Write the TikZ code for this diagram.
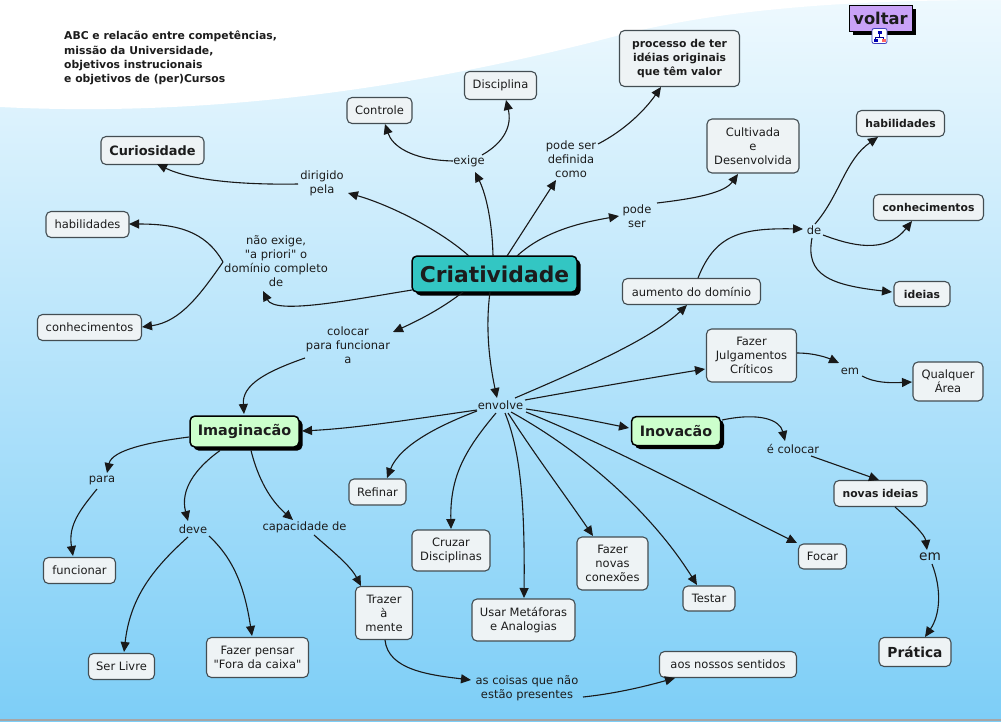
\documentclass[tikz,border=0pt]{standalone}
\usepackage{fontspec}
\setmainfont{DejaVu Sans}[Ligatures=TeXOff]
\usetikzlibrary{arrows.meta,shadows,calc}
\definecolor{cfill}{HTML}{EEF3F5}
\definecolor{cdraw}{HTML}{434D52}
\definecolor{tealc}{HTML}{33C6C3}
\definecolor{greenc}{HTML}{CCFFCC}
\definecolor{purpc}{HTML}{C9A2F7}
\definecolor{bgtop}{HTML}{EEF9FE}
\definecolor{bgbot}{HTML}{7DCEF7}
\definecolor{txt}{HTML}{1C1C1C}
\newcommand\fsz[2]{\fontsize{#1}{#2}\selectfont}
\tikzset{
  concept/.style={draw=cdraw, fill=cfill, rounded corners=5pt, line width=1.1pt, inner sep=2pt, align=center, text=txt, font=\fsz{11.5}{14}},
  cn/.style 2 args={concept, minimum width=#1, minimum height=#2},
  bcn/.style 2 args={concept, minimum width=#1, minimum height=#2, font=\bfseries\fsz{10.8}{14}},
  mainc/.style={draw=black, line width=1.5pt, rounded corners=5pt, inner sep=2pt, text=txt, drop shadow={shadow xshift=3.5pt, shadow yshift=-3.5pt, opacity=1, fill=black}},
  lk/.style={inner sep=1pt, align=center, text=txt, font=\fsz{11.5}{14}},
  conn/.style={draw=black!90, line width=1.1pt, -{Triangle[length=10pt,width=9pt]}},
}
\begin{document}
\begin{tikzpicture}[x=1pt,y=-1pt]
\useasboundingbox (0,0) rectangle (1001,721);
\shade[top color=bgtop, bottom color=bgbot] (0,0) rectangle (1001,721);
\fill[white] (0,0) -- (0,107) .. controls (220,118) and (430,85) .. (620,35) .. controls (740,5) and (880,0) .. (1001,0) -- cycle;
\draw[gray!70, line width=1.5pt] (0,720) -- (1001,720);

% title
\node[anchor=north west, inner sep=0pt, align=left, font=\bfseries\fsz{10.8}{14.2}, text=txt] (title) at (64,31) {ABC e relacão entre competências,\\missão da Universidade,\\objetivos instrucionais\\e objetivos de (per)Cursos};

% voltar
\node[draw=black, line width=1pt, fill=purpc, minimum width=63, minimum height=26, font=\bfseries\fsz{16.3}{18}, inner sep=1pt, text=txt, drop shadow={shadow xshift=3.5pt, shadow yshift=-3.5pt, opacity=1, fill=black}] (voltar) at (880.5,18.5) {voltar};
\node[draw=blue!50!gray, fill=white, rounded corners=2pt, minimum width=15, minimum height=15, inner sep=0pt, line width=0.8pt] (icon) at (879.5,36) {};
\fill[blue!70!black] ($(icon)+(-2,-5.5)$) rectangle ($(icon)+(2,-2.5)$);
\draw[blue!60!black, line width=0.6pt] ($(icon)+(0,-2.5)$) -- ($(icon)+(0,1)$) ($(icon)+(-4,1)$) -- ($(icon)+(4,1)$) ($(icon)+(-4,1)$) -- ($(icon)+(-4,2.5)$) ($(icon)+(4,1)$) -- ($(icon)+(4,2.5)$);
\fill[blue!70!black] ($(icon)+(-6,2.5)$) rectangle ($(icon)+(-2,5.5)$);
\fill[red!60] ($(icon)+(2,2.5)$) rectangle ($(icon)+(6,5.5)$);

% main concepts
\node[mainc, fill=tealc, minimum width=165, minimum height=36, font=\bfseries\fsz{21.8}{24}] (Cr) at (494.5,274) {Criatividade};
\node[mainc, fill=greenc, minimum width=109, minimum height=31, font=\bfseries\fsz{14.4}{16}] (Imag) at (244.5,431.5) {Imaginacão};
\node[mainc, fill=greenc, minimum width=89, minimum height=29, font=\bfseries\fsz{14.3}{16}] (Inov) at (676,431) {Inovacão};

% concepts
\node[cn={65}{26}] (Ctrl) at (379.5,110.5) {Controle};
\node[cn={72}{28}] (Disc) at (500.5,85.5) {Disciplina};
\node[bcn={120}{56}] (proc) at (679.5,58.5) {processo de ter\\idéias originais\\que têm valor};
\node[cn={103}{28}, font=\bfseries\fsz{12.9}{15}] (Cur) at (152.5,150.5) {Curiosidade};
\node[cn={83}{26}] (habL) at (87.5,224.5) {habilidades};
\node[cn={104}{26}] (conL) at (89.5,327.5) {conhecimentos};
\node[cn={92}{54}] (Cult) at (753,146) {Cultivada\\e\\Desenvolvida};
\node[bcn={88}{26}] (habR) at (900.5,123.5) {habilidades};
\node[bcn={110}{26}] (conR) at (928.5,207.5) {conhecimentos};
\node[bcn={56}{25}] (ide) at (922,294) {ideias};
\node[cn={138}{26}] (aum) at (691.5,291.5) {aumento do domínio};
\node[cn={90}{53}] (Julg) at (751.5,355.5) {Fazer\\Julgamentos\\Críticos};
\node[cn={70}{39}] (Qual) at (948,381.5) {Qualquer\\Área};
\node[bcn={93}{26}] (nid) at (880.5,493.5) {novas ideias};
\node[cn={57}{26}] (Ref) at (377.5,492) {Refinar};
\node[cn={78}{41}] (Cruz) at (451,550.5) {Cruzar\\Disciplinas};
\node[cn={103}{42}] (Usar) at (523.5,620) {Usar Metáforas\\e Analogias};
\node[cn={71}{53}] (Conx) at (612.5,563.5) {Fazer\\novas\\conexões};
\node[cn={52}{25}] (Test) at (709,598.5) {Testar};
\node[cn={48}{25}] (Foc) at (822.5,556.5) {Focar};
\node[cn={57}{53}] (Traz) at (384,613) {Trazer\\à\\mente};
\node[cn={137}{26}] (aos) at (728,664.5) {aos nossos sentidos};
\node[cn={72}{29}, font=\bfseries\fsz{13.8}{16}] (Prat) at (915,652) {Prática};
\node[cn={72}{26}] (func) at (79.5,570.5) {funcionar};
\node[cn={66}{26}] (Livre) at (121.5,666.5) {Ser Livre};
\node[cn={102}{40}] (Fora) at (257.5,657.5) {Fazer pensar\\"Fora da caixa"};

% linking phrases
\node[lk] (exige) at (469,161) {exige};
\node[lk] (dir) at (322,183.5) {dirigido\\pela};
\node[lk] (pdef) at (571,159) {pode ser\\definida\\como};
\node[lk] (pser) at (637,216) {pode\\ser};
\node[lk] (nao) at (276,261) {não exige,\\"a priori" o\\domínio completo\\de};
\node[lk] (col) at (348,345.5) {colocar\\para funcionar\\a};
\node[lk] (env) at (500.5,405) {envolve};
\node[lk] (de) at (814,230) {de};
\node[lk] (emA) at (850,371) {em};
\node[lk] (ecol) at (793,449) {é colocar};
\node[lk, font=\fsz{13.7}{16}] (emB) at (930,557) {em};
\node[lk] (para) at (102,480) {para};
\node[lk] (deve) at (193,529) {deve};
\node[lk] (cap) at (304.5,527) {capacidade de};
\node[lk] (coisas) at (527,688) {as coisas que não\\estão presentes};

% connectors
\draw[conn] ($(Cr)+(-1.5,-18)$) .. controls +(-1,-41) and +(9,18) .. ($(exige)+(6,11)$);
\draw[conn] ($(exige)+(-16,0)$) .. controls +(-43,-1) and +(7,21) .. ($(Ctrl)+(5.5,13.5)$);
\draw[conn] ($(exige)+(13,-6)$) .. controls +(23,-13) and +(6,25) .. ($(Disc)+(5.5,14.5)$);
\draw[conn] ($(Cr)+(12.5,-18)$) -- ($(pdef)+(-15,21)$);
\draw[conn] ($(pdef)+(27,-15)$) .. controls +(27,-14) and +(-16,23) .. ($(proc)+(-18.5,28.5)$);
\draw[conn] ($(Cr)+(22.5,-18)$) .. controls +(28,-26) and +(-34,6) .. ($(pser)+(-18,0)$);
\draw[conn] ($(pser)+(20,-13)$) .. controls +(43,-5) and +(-13,18) .. ($(Cult)+(-15,28)$);
\draw[conn] ($(Cr)+(-25.5,-18)$) .. controls +(-29,-26) and +(42,12) .. ($(dir)+(26,9.5)$);
\draw[conn] ($(dir)+(-24,0.5)$) .. controls +(-58,1) and +(33,16) .. ($(Cur)+(4.5,13.5)$);
\draw[conn] ($(Cr)+(-82.5,16)$) .. controls +(-62,10) and +(12,24) .. ($(nao)+(-13,30)$);
\draw[conn] ($(nao)+(-53,1)$) .. controls +(-18,-32) and +(46,0) .. ($(habL)+(41.5,-0.5)$);
\draw[conn] ($(nao)+(-53,1)$) .. controls +(-23,33) and +(38,-5) .. ($(conL)+(52.5,-0.5)$);
\draw[conn] ($(Cr)+(-31.5,18)$) .. controls +(-23,18) and +(22,-10) .. ($(col)+(45,-13.5)$);
\draw[conn] ($(col)+(-43,12.5)$) .. controls +(-40,14) and +(-2,-29) .. ($(Imag)+(-0.5,-17.5)$);
\draw[conn] ($(Cr)+(-4.5,18)$) .. controls +(-5,38) and +(-7,-33) .. ($(env)+(-3.5,-7)$);
\draw[conn] ($(env)+(-23.5,5)$) .. controls +(-57,8) and +(58,-3) .. ($(Imag)+(57.5,-0.5)$);
\draw[conn] ($(env)+(14.5,-7)$) .. controls +(65,-28) and +(-37,35) .. ($(aum)+(-4.5,13.5)$);
\draw[conn] ($(aum)+(6.5,-13.5)$) .. controls +(17,-43) and +(-63,-1) .. ($(de)+(-11,-1)$);
\draw[conn] ($(de)+(1,-6)$) .. controls +(25,-29) and +(-33,23) .. ($(habR)+(-22.5,13.5)$);
\draw[conn] ($(de)+(9,5)$) .. controls +(27,10) and +(-27,34) .. ($(conR)+(-16.5,13.5)$);
\draw[conn] ($(de)+(-2,8)$) .. controls +(-7,37) and +(-62,-7) .. ($(ide)+(-30,-2)$);
\draw[conn] ($(env)+(24.5,-5)$) .. controls +(55,-10) and +(-55,9) .. ($(Julg)+(-46.5,13.5)$);
\draw[conn] ($(Julg)+(45.5,-2.5)$) .. controls +(18,0) and +(-11,-5) .. ($(emA)+(-11,-8)$);
\draw[conn] ($(emA)+(12,5)$) .. controls +(13,7) and +(-22,1) .. ($(Qual)+(-36,0.5)$);
\draw[conn] ($(env)+(25.5,4)$) .. controls +(35,5) and +(-35,-7) .. ($(Inov)+(-47,-3)$);
\draw[conn] ($(Inov)+(46,-11)$) .. controls +(38,-8) and +(-5,-21) .. ($(ecol)+(-8,-8)$);
\draw[conn] ($(ecol)+(18,7)$) -- ($(nid)+(-1.5,-13.5)$);
\draw[conn] ($(nid)+(14.5,13.5)$) .. controls +(17,15) and +(-2,-15) .. ($(emB)+(-3,-7)$);
\draw[conn] ($(emB)+(2,7)$) .. controls +(10,26) and +(15,-22) .. ($(Prat)+(10,-15)$);
\draw[conn] ($(env)+(-23.5,6)$) .. controls +(-37,14) and +(13,-33) .. ($(Ref)+(9.5,-14)$);
\draw[conn] ($(env)+(-4.5,8)$) .. controls +(-31,37) and +(-1,-53) .. ($(Cruz)+(0,-21.5)$);
\draw[conn] ($(env)+(4.5,8)$) .. controls +(15,37) and +(1,-98) .. ($(Usar)+(0.5,-22)$);
\draw[conn] ($(env)+(7.5,8)$) .. controls +(27,42) and +(-28,-41) .. ($(Conx)+(-19.5,-27.5)$);
\draw[conn] ($(env)+(10.5,7)$) .. controls +(69,38) and +(-47,-75) .. ($(Test)+(-12,-13.5)$);
\draw[conn] ($(env)+(25.5,7)$) .. controls +(94,38) and +(-77,-38) .. ($(Foc)+(-25.5,-13.5)$);
\draw[conn] ($(Imag)+(-55.5,5.5)$) .. controls +(-39,5) and +(5,-23) .. ($(para)+(5,-7)$);
\draw[conn] ($(para)+(-5,9)$) .. controls +(-17,21) and +(-5,-31) .. ($(func)+(-6.5,-14.5)$);
\draw[conn] ($(Imag)+(-24.5,19)$) .. controls +(-25,18) and +(-8,-31) .. ($(deve)+(-5,-8)$);
\draw[conn] ($(deve)+(-5,8)$) .. controls +(-38,34) and +(6,-52) .. ($(Livre)+(2.5,-14.5)$);
\draw[conn] ($(deve)+(16,7)$) .. controls +(26,24) and +(-7,-46) .. ($(Fora)+(-5.5,-21.5)$);
\draw[conn] ($(Imag)+(6.5,19)$) .. controls +(7,28) and +(-23,-20) .. ($(cap)+(-11.5,-7)$);
\draw[conn] ($(cap)+(9.5,8)$) .. controls +(17,15) and +(-11,-21) .. ($(Traz)+(-23,-27)$);
\draw[conn] ($(Traz)+(1,27)$) .. controls +(3,30) and +(-41,-5) .. ($(coisas)+(-56,-8)$);
\draw[conn] ($(coisas)+(56,9)$) .. controls +(37,-4) and +(-25,7) .. ($(aos)+(-53,13.5)$);
\end{tikzpicture}
\end{document}
